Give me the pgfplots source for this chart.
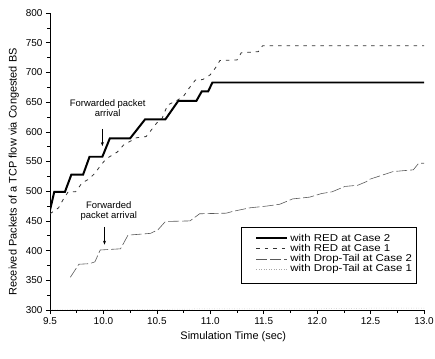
\documentclass[border=0pt]{standalone}
\usepackage{fontspec}
\setmainfont{Liberation Sans}
\newfontfamily\legfont{Liberation Sans}[FakeStretch=1.15]
\usepackage{pgfplots}
\pgfplotsset{compat=1.18}
\usetikzlibrary{calc,arrows.meta}
\begin{document}
\begin{tikzpicture}
\begin{axis}[
  scale only axis, width=374bp, height=297bp,
  xmin=9.5, xmax=13.0, ymin=300, ymax=800,
  axis x line*=bottom, axis y line*=left,
  axis line style={-, line width=0.8pt},
  xtick={9.5,10,10.5,11,11.5,12,12.5,13}, ytick={300,350,...,800},
  minor x tick num=1, minor y tick num=1,
  tick align=outside,
  major tick length=4bp, minor tick length=2.5bp,
  every tick/.style={black, line width=0.6pt},
  x tick label style={/pgf/number format/fixed, /pgf/number format/fixed zerofill, /pgf/number format/precision=1},
  /pgf/number format/assume math mode=true,
  ticklabel style={font=\fontsize{10}{12}\selectfont},
  xlabel={Simulation Time (sec)},
  ylabel={Received Packets of a TCP flow via Congested BS},
  label style={font=\fontsize{11}{13}\selectfont},
  every axis y label/.append style={at={(ticklabel cs:0.465)}},
  every axis x label/.append style={at={(ticklabel cs:0.49)}},
  legend style={at={(rel axis cs:0.511,0.280)}, anchor=north west, draw=black, line width=0.5pt,
    font=\legfont\fontsize{10}{11}\selectfont, legend cell align=left, row sep=-2.5pt,
    inner ysep=5pt, inner xsep=2pt},
  legend image code/.code={\path (0bp,0bp); \draw[#1] (12bp,0bp) -- (43bp,0bp);},
]
\addplot[black, line width=2pt] coordinates {
(9.50,468) (9.54,499) (9.64,499) (9.70,528) (9.81,528) (9.87,558) (9.99,558) (10.06,589) (10.25,589) (10.39,621) (10.58,621) (10.70,652) (10.87,652) (10.92,668) (10.98,668) (11.02,683) (13.00,683)};
\addlegendentry{with RED at Case 2}
\addplot[black!80, line width=0.8pt, dash pattern=on 3.5pt off 5pt] coordinates {
(9.50,462) (9.58,472) (9.62,485) (9.67,499) (9.74,499) (9.80,514) (9.86,520) (9.92,530) (9.98,545) (10.03,555) (10.13,566) (10.19,578) (10.31,590) (10.40,592) (10.50,615) (10.55,623) (10.60,645) (10.69,653) (10.75,660) (10.80,673) (10.86,687) (10.93,688) (11.00,696) (11.05,708) (11.09,720) (11.25,721) (11.29,733) (11.45,735) (11.49,745) (13.00,745)};
\addlegendentry{with RED at Case 1}
\addplot[black!65, line width=0.6pt, dash pattern=on 11pt off 3pt] coordinates {
(9.69,355) (9.77,377) (9.87,378) (9.92,381) (9.97,401) (10.06,402) (10.16,403) (10.23,426) (10.44,429) (10.51,435) (10.58,449) (10.81,450) (10.90,462) (11.15,463) (11.21,466) (11.37,472) (11.53,475) (11.65,478) (11.77,487) (11.93,490) (12.04,496) (12.14,499) (12.26,508) (12.38,510) (12.46,516) (12.49,520) (12.71,533) (12.90,536) (12.95,547) (13.00,547)};
\addlegendentry{with Drop-Tail at Case 2}
\addplot[black!35, line width=0.5pt, dotted] coordinates {
(9.50,300) (9.90,301) (10.50,301) (11.00,302) (11.50,302) (12.00,302) (12.50,303) (13.00,303)};
\addlegendentry{with Drop-Tail at Case 1}
\addlegendimage{empty legend}\addlegendentry{}
\node[align=center, font=\fontsize{9.5}{10.5}\selectfont] at (axis cs:10.04,640) {Forwarded packet\\arrival};
\draw[-{Stealth[length=4pt,width=3pt]}, line width=0.5pt] (axis cs:9.99,605) -- (axis cs:9.99,576);
\node[align=center, font=\fontsize{9.5}{10.5}\selectfont] at (axis cs:10.05,467) {Forwarded\\packet arrival};
\draw[-{Stealth[length=4pt,width=3pt]}, line width=0.5pt] (axis cs:10.01,440) -- (axis cs:10.01,410);
\end{axis}
\pgfresetboundingbox
\path[use as bounding box] ($(current axis.south west)+(-50bp,-49bp)$) rectangle ($(current axis.north east)+(11bp,13bp)$);
\end{tikzpicture}
\end{document}
